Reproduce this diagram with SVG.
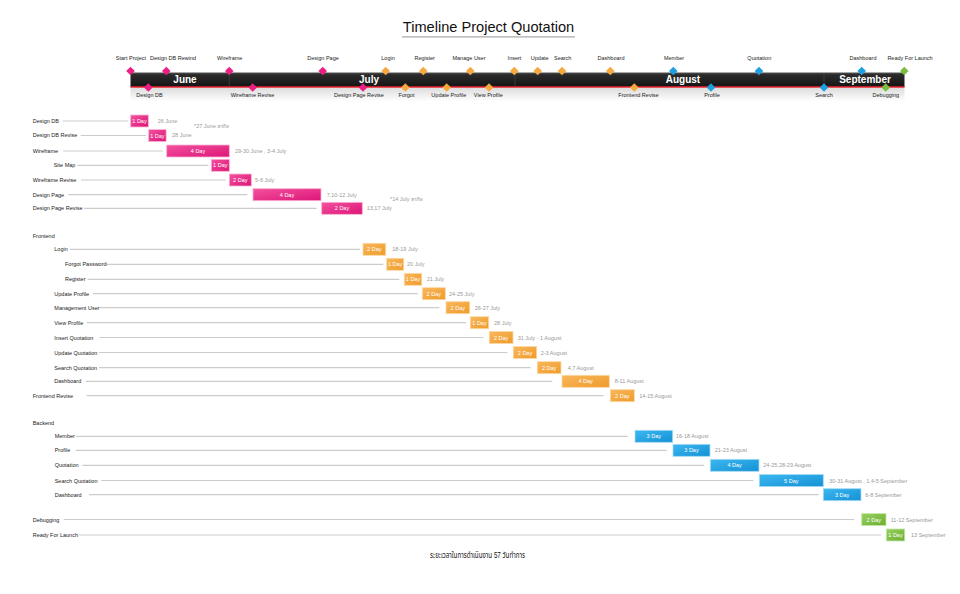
<svg xmlns="http://www.w3.org/2000/svg" xmlns:xlink="http://www.w3.org/1999/xlink" width="960" height="594" viewBox="0 0 960 594">
<defs>
<style>
text{font-family:"Liberation Sans","DejaVu Sans","Noto Sans Thai","Loma","Garuda","Tlwg Typo",sans-serif;}
.title{font-size:14.6px;fill:#111;text-anchor:middle}
.mon{font-size:10px;font-weight:bold;fill:#fff;text-anchor:middle}
.ml{font-size:5.5px;fill:#222;text-anchor:middle}
.lb{font-size:5.5px;fill:#222}
.dt{font-size:5.5px;fill:#999}
.bt{font-size:5.5px;fill:#fff;text-anchor:middle}
.gl{stroke:#cccccc;stroke-width:1.2}
.pk{fill:#ec1f84}
.or{fill:#f7a940}
.bl{fill:#1d9fe0}
.gr{fill:#7cbd40}
.bpk{fill:url(#gpk);stroke:#f9b3d6;stroke-width:0.8}
.bor{fill:url(#gor);stroke:#fcd9a6;stroke-width:0.8}
.bbl{fill:url(#gbl);stroke:#a8dcf6;stroke-width:0.8}
.bgr{fill:url(#ggr);stroke:#c7e6a8;stroke-width:0.8}
.foot{font-size:8.5px;fill:#111}
</style>
<linearGradient id="gbar" x1="0" y1="0" x2="0" y2="1"><stop offset="0" stop-color="#3a3a3a"/><stop offset="0.15" stop-color="#2b2b2b"/><stop offset="1" stop-color="#141414"/></linearGradient>
<linearGradient id="gsh" x1="0" y1="0" x2="0" y2="1"><stop offset="0" stop-color="#dcdcdc"/><stop offset="1" stop-color="#ffffff"/></linearGradient>
<linearGradient id="gpk" x1="0" y1="0" x2="1" y2="1"><stop offset="0" stop-color="#f4529f"/><stop offset="1" stop-color="#dc1577"/></linearGradient>
<linearGradient id="gor" x1="0" y1="0" x2="1" y2="1"><stop offset="0" stop-color="#f9b75a"/><stop offset="1" stop-color="#ee9b2c"/></linearGradient>
<linearGradient id="gbl" x1="0" y1="0" x2="1" y2="1"><stop offset="0" stop-color="#3cb8f0"/><stop offset="1" stop-color="#1590d5"/></linearGradient>
<linearGradient id="ggr" x1="0" y1="0" x2="1" y2="1"><stop offset="0" stop-color="#98d060"/><stop offset="1" stop-color="#6cae33"/></linearGradient>
<path id="d" d="M0,-4.3 L4.3,0 L0,4.3 L-4.3,0Z"/>
</defs>
<rect width="960" height="594" fill="#ffffff"/>

<g id="title">
<text class="title" x="488.5" y="32">Timeline Project Quotation</text>
<line x1="402" y1="36.8" x2="575" y2="36.8" stroke="#aaaaaa" stroke-width="1.3"/>
</g>

<g id="timeline">
<rect x="130.5" y="87.5" width="774" height="14" fill="url(#gsh)"/>
<rect x="130.5" y="72.7" width="774" height="14.3" fill="url(#gbar)"/>
<line x1="130.5" y1="73" x2="904.5" y2="73" stroke="#666" stroke-width="0.6"/>
<line x1="130.5" y1="87" x2="904.5" y2="87" stroke="#e8222c" stroke-width="1.6"/>
<g stroke="#3f3f3f" stroke-width="0.8">
<line x1="229.3" y1="73.5" x2="229.3" y2="86"/>
<line x1="515" y1="73.5" x2="515" y2="86"/>
<line x1="824" y1="73.5" x2="824" y2="86"/>
</g>
<text class="mon" x="185" y="83.3">June</text>
<text class="mon" x="369" y="83.3">July</text>
<text class="mon" x="683" y="83.3">August</text>
<text class="mon" x="865" y="83.3">September</text>
</g>

<g id="milestones">
<g id="m-start"><use href="#d" x="130.5" y="71" class="pk"/><text class="ml" x="131" y="60">Start Project</text></g>
<g id="m-designdb-rewind"><use href="#d" x="166.3" y="71" class="pk"/><text class="ml" x="173" y="60">Design DB Rewind</text></g>
<g id="m-wireframe"><use href="#d" x="229.3" y="71" class="pk"/><text class="ml" x="229.7" y="60">Wireframe</text></g>
<g id="m-designpage"><use href="#d" x="322.7" y="71" class="pk"/><text class="ml" x="323" y="60">Design Page</text></g>
<g id="m-login"><use href="#d" x="385.7" y="71" class="or"/><text class="ml" x="388" y="60">Login</text></g>
<g id="m-register"><use href="#d" x="423.3" y="71" class="or"/><text class="ml" x="424.7" y="60">Register</text></g>
<g id="m-manageuser"><use href="#d" x="470.3" y="71" class="or"/><text class="ml" x="469" y="60">Manage User</text></g>
<g id="m-insert"><use href="#d" x="514.3" y="71" class="or"/><text class="ml" x="514.5" y="60">Insert</text></g>
<g id="m-update"><use href="#d" x="537.7" y="71" class="or"/><text class="ml" x="539.7" y="60">Update</text></g>
<g id="m-search"><use href="#d" x="562" y="71" class="or"/><text class="ml" x="562.7" y="60">Search</text></g>
<g id="m-dashboard-fe"><use href="#d" x="610.3" y="71" class="or"/><text class="ml" x="611" y="60">Dashboard</text></g>
<g id="m-member"><use href="#d" x="673.3" y="71" class="bl"/><text class="ml" x="674" y="60">Member</text></g>
<g id="m-quotation"><use href="#d" x="759" y="71" class="bl"/><text class="ml" x="759.3" y="60">Quotation</text></g>
<g id="m-dashboard-be"><use href="#d" x="861.7" y="71" class="bl"/><text class="ml" x="863" y="60">Dashboard</text></g>
<g id="m-launch"><use href="#d" x="904.3" y="71" class="gr"/><text class="ml" x="910" y="60">Ready For Launch</text></g>

<g id="m-designdb"><use href="#d" x="148.3" y="87.5" class="pk"/><text class="ml" x="149.5" y="97">Design DB</text></g>
<g id="m-wireframe-revise"><use href="#d" x="252.7" y="87.5" class="pk"/><text class="ml" x="252.5" y="97">Wireframe Revise</text></g>
<g id="m-designpage-revise"><use href="#d" x="363" y="87.5" class="pk"/><text class="ml" x="359" y="97">Design Page Revise</text></g>
<g id="m-forgot"><use href="#d" x="405.3" y="87.5" class="or"/><text class="ml" x="406.5" y="97">Forgot</text></g>
<g id="m-updateprofile"><use href="#d" x="446.7" y="87.5" class="or"/><text class="ml" x="448.8" y="97">Update Profile</text></g>
<g id="m-viewprofile"><use href="#d" x="489" y="87.5" class="or"/><text class="ml" x="488.3" y="97">View Profile</text></g>
<g id="m-frontend-revise"><use href="#d" x="634.3" y="87.5" class="or"/><text class="ml" x="638.5" y="97">Frontend Revise</text></g>
<g id="m-profile"><use href="#d" x="711" y="87.5" class="bl"/><text class="ml" x="712" y="97">Profile</text></g>
<g id="m-search-be"><use href="#d" x="824" y="87.5" class="bl"/><text class="ml" x="824" y="97">Search</text></g>
<g id="m-debugging"><use href="#d" x="885.7" y="87.5" class="gr"/><text class="ml" x="885.8" y="97">Debugging</text></g>
</g>

<g id="connectors">
<line class="gl" x1="62.7" y1="121" x2="128.3" y2="121"/>
<line class="gl" x1="80.7" y1="135.5" x2="146" y2="135.5"/>
<line class="gl" x1="63.3" y1="151" x2="162.7" y2="151"/>
<line class="gl" x1="77.3" y1="165.3" x2="208.3" y2="165.3"/>
<line class="gl" x1="81" y1="180" x2="226" y2="180"/>
<line class="gl" x1="68.3" y1="194.7" x2="247.3" y2="194.7"/>
<line class="gl" x1="84" y1="208.3" x2="316.7" y2="208.3"/>
<line class="gl" x1="70" y1="249.3" x2="360" y2="249.3"/>
<line class="gl" x1="106" y1="264.3" x2="383.3" y2="264.3"/>
<line class="gl" x1="87.7" y1="279.3" x2="399.3" y2="279.3"/>
<line class="gl" x1="92.7" y1="293.7" x2="417.7" y2="293.7"/>
<line class="gl" x1="100" y1="307.7" x2="439.3" y2="307.7"/>
<line class="gl" x1="86.7" y1="322.7" x2="466" y2="322.7"/>
<line class="gl" x1="99.3" y1="337.5" x2="483.3" y2="337.5"/>
<line class="gl" x1="98.7" y1="352.5" x2="507.3" y2="352.5"/>
<line class="gl" x1="99" y1="367.7" x2="530.7" y2="367.7"/>
<line class="gl" x1="85.7" y1="381.3" x2="552.3" y2="381.3"/>
<line class="gl" x1="86.7" y1="395.7" x2="603.3" y2="395.7"/>
<line class="gl" x1="76" y1="436.3" x2="627.7" y2="436.3"/>
<line class="gl" x1="75.7" y1="450.3" x2="666.7" y2="450.3"/>
<line class="gl" x1="82.3" y1="465.3" x2="704" y2="465.3"/>
<line class="gl" x1="101.3" y1="480.5" x2="753.3" y2="480.5"/>
<line class="gl" x1="89" y1="494.7" x2="818.7" y2="494.7"/>
<line class="gl" x1="63.7" y1="519.5" x2="854.3" y2="519.5"/>
<line class="gl" x1="79" y1="535" x2="881" y2="535"/>
</g>

<g id="design">
<g id="t-designdb"><text class="lb" x="32.7" y="122.8">Design DB</text><rect class="bpk" x="130.7" y="115" width="17.6" height="12"/><text class="bt" x="139.5" y="123">1 Day</text><text class="dt" x="157.7" y="122.5">26 June</text></g>
<text class="dt" x="194" y="127.5">*27 June ลากิจ</text>
<g id="t-designdb-revise"><text class="lb" x="32.7" y="137.4">Design DB Revise</text><rect class="bpk" x="148.7" y="129.6" width="17.4" height="12"/><text class="bt" x="157.4" y="137.6">1 Day</text><text class="dt" x="172" y="137.4">28 June</text></g>
<g id="t-wireframe"><text class="lb" x="32.7" y="153">Wireframe</text><rect class="bpk" x="166.7" y="145" width="62.6" height="12"/><text class="bt" x="198" y="153">4 Day</text><text class="dt" x="235" y="153">29-30 June , 3-4 July</text></g>
<g id="t-sitemap"><text class="lb" x="53.7" y="167">Site Map</text><rect class="bpk" x="211.3" y="159.3" width="18" height="12"/><text class="bt" x="220.3" y="167.3">1 Day</text></g>
<g id="t-wireframe-revise"><text class="lb" x="32.7" y="182">Wireframe Revise</text><rect class="bpk" x="229.3" y="174" width="22" height="12"/><text class="bt" x="240.3" y="182">2 Day</text><text class="dt" x="255" y="182">5-6 July</text></g>
<g id="t-designpage"><text class="lb" x="32.7" y="196.5">Design Page</text><rect class="bpk" x="253" y="188.7" width="68" height="12"/><text class="bt" x="287" y="196.7">4 Day</text><text class="dt" x="326.7" y="196.5">7,10-12 July</text></g>
<text class="dt" x="390" y="200.5">*14 July ลากิจ</text>
<g id="t-designpage-revise"><text class="lb" x="32.7" y="210.2">Design Page Revise</text><rect class="bpk" x="321.7" y="202.3" width="40.6" height="12"/><text class="bt" x="342" y="210.3">2 Day</text><text class="dt" x="366.7" y="210.2">13,17 July</text></g>
</g>

<g id="frontend">
<text class="lb" x="32.7" y="237.8">Frontend</text>
<g id="t-login"><text class="lb" x="54.3" y="251.4">Login</text><rect class="bor" x="363" y="243.3" width="22.7" height="12"/><text class="bt" x="374.3" y="251.3">2 Day</text><text class="dt" x="392.3" y="251.4">18-19 July</text></g>
<g id="t-forgot"><text class="lb" x="65" y="266.4">Forgot Password</text><rect class="bor" x="386.7" y="258.3" width="17" height="12"/><text class="bt" x="395.2" y="266.3">1 Day</text><text class="dt" x="407" y="266.4">20 July</text></g>
<g id="t-register"><text class="lb" x="65" y="281.2">Register</text><rect class="bor" x="404.3" y="273.3" width="17.4" height="12"/><text class="bt" x="413" y="281.3">1 Day</text><text class="dt" x="426.7" y="281.2">21 July</text></g>
<g id="t-updateprofile"><text class="lb" x="54.3" y="295.8">Update Profile</text><rect class="bor" x="422.3" y="287.7" width="23" height="12"/><text class="bt" x="433.8" y="295.7">2 Day</text><text class="dt" x="449" y="295.8">24-25 July</text></g>
<g id="t-manageuser"><text class="lb" x="54.3" y="309.8">Management User</text><rect class="bor" x="446" y="301.7" width="23.7" height="12"/><text class="bt" x="457.8" y="309.7">2 Day</text><text class="dt" x="474.7" y="309.8">26-27 July</text></g>
<g id="t-viewprofile"><text class="lb" x="54.3" y="324.8">View Profile</text><rect class="bor" x="470.3" y="316.7" width="18.4" height="12"/><text class="bt" x="479.5" y="324.7">1 Day</text><text class="dt" x="494" y="324.8">28 July</text></g>
<g id="t-insert"><text class="lb" x="54.3" y="339.6">Insert Quotation</text><rect class="bor" x="489.3" y="331.5" width="23.7" height="12"/><text class="bt" x="501.2" y="339.5">2 Day</text><text class="dt" x="517.7" y="339.6">31 July - 1 August</text></g>
<g id="t-updatequot"><text class="lb" x="54.3" y="354.6">Update Quotation</text><rect class="bor" x="513.3" y="346.5" width="23.4" height="12"/><text class="bt" x="525" y="354.5">2 Day</text><text class="dt" x="540.7" y="354.6">2-3 August</text></g>
<g id="t-searchquot"><text class="lb" x="54.3" y="369.8">Search Quotation</text><rect class="bor" x="537.3" y="361.7" width="23.7" height="12"/><text class="bt" x="549.2" y="369.7">2 Day</text><text class="dt" x="567.7" y="369.8">4,7 August</text></g>
<g id="t-dashboard-fe"><text class="lb" x="54.3" y="383.4">Dashboard</text><rect class="bor" x="562" y="375.3" width="47.3" height="12"/><text class="bt" x="585.7" y="383.3">4 Day</text><text class="dt" x="614.7" y="383.4">8-11 August</text></g>
<g id="t-frontend-revise"><text class="lb" x="32.7" y="397.8">Frontend Revise</text><rect class="bor" x="610.3" y="389.7" width="24" height="12"/><text class="bt" x="622.3" y="397.7">2 Day</text><text class="dt" x="639.3" y="397.8">14-15 August</text></g>
</g>

<g id="backend">
<text class="lb" x="32.7" y="424.5">Backend</text>
<g id="t-member"><text class="lb" x="54.7" y="438.4">Member</text><rect class="bbl" x="635" y="430.3" width="37.7" height="12"/><text class="bt" x="653.8" y="438.3">3 Day</text><text class="dt" x="676" y="438.4">16-18 August</text></g>
<g id="t-profile"><text class="lb" x="54.7" y="452.4">Profile</text><rect class="bbl" x="673" y="444.3" width="37" height="12"/><text class="bt" x="691.5" y="452.3">3 Day</text><text class="dt" x="714.7" y="452.4">21-23 August</text></g>
<g id="t-quotation"><text class="lb" x="54.7" y="467.4">Quotation</text><rect class="bbl" x="710.3" y="459.3" width="48.7" height="12"/><text class="bt" x="734.7" y="467.3">4 Day</text><text class="dt" x="763.3" y="467.4">24-25,28-29 August</text></g>
<g id="t-searchquot-be"><text class="lb" x="54.7" y="482.6">Search Quotation</text><rect class="bbl" x="759.3" y="474.4" width="64" height="12.2"/><text class="bt" x="791.3" y="482.6">5 Day</text><text class="dt" x="829.3" y="482.6">30-31 August , 1,4-5 September</text></g>
<g id="t-dashboard-be"><text class="lb" x="54.7" y="496.8">Dashboard</text><rect class="bbl" x="823.3" y="488.7" width="37.7" height="12"/><text class="bt" x="842.2" y="496.7">3 Day</text><text class="dt" x="865.3" y="496.8">6-8 September</text></g>
</g>

<g id="final">
<g id="t-debugging"><text class="lb" x="32.7" y="521.6">Debugging</text><rect class="bgr" x="861.7" y="513.6" width="24.3" height="12"/><text class="bt" x="873.8" y="521.6">2 Day</text><text class="dt" x="890.7" y="521.6">11-12 September</text></g>
<g id="t-launch"><text class="lb" x="32.7" y="537">Ready For Launch</text><rect class="bgr" x="886.3" y="529" width="18.4" height="12"/><text class="bt" x="895.5" y="537">1 Day</text><text class="dt" x="911" y="537">13 September</text></g>
</g>

<text class="foot" x="430" y="557.8" textLength="95" lengthAdjust="spacingAndGlyphs">ระยะเวลาในการดำเนินงาน 57 วันทำการ</text>
</svg>
